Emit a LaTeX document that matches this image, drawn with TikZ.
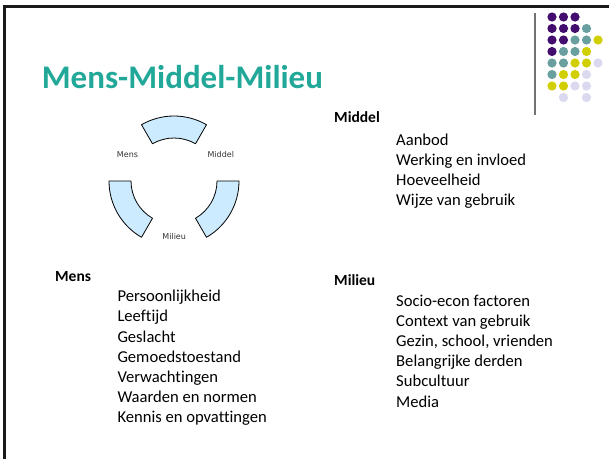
\documentclass[tikz,border=0pt]{standalone}
\usepackage{fontspec}
\setmainfont[Ligatures=CommonOff]{Carlito}
\newfontfamily\wielfont{DejaVu Sans}
\usetikzlibrary{positioning}
\usepackage{xcolor}
\definecolor{titel}{HTML}{22A899}
\definecolor{d1}{HTML}{420D6E}
\definecolor{d2}{HTML}{6A9FA0}
\definecolor{d3}{HTML}{D2CF00}
\definecolor{d4}{HTML}{DAD9F0}
\definecolor{ring}{HTML}{CCEBFF}
\tikzstyle{kop}=[font=\fontsize{15.5}{18}\selectfont\bfseries,anchor=base west,inner sep=0pt]
\tikzstyle{item}=[font=\fontsize{16.6}{20}\selectfont,anchor=base west,inner sep=0pt]
\tikzstyle{wiel}=[font=\wielfont\fontsize{8}{9}\selectfont,text=black!80,inner sep=0pt]
\tikzstyle{segment}=[draw=black,fill=ring,line width=0.8pt,line join=round]
\newcommand{\ringdeel}[2]
{  % #1 = begin hoek , #2 = eind hoek
  \draw[segment] ([shift={(#1:65)}]c) arc[start angle=#1,end angle=#2,radius=65]
    -- ([shift={(#2:43)}]c) arc[start angle=#2,end angle=#1,radius=43] -- cycle;
}

\begin{document}
\begin{tikzpicture}[x=1pt,y=-1pt]
  \useasboundingbox (0,0) rectangle (609,459);
  \draw[line width=3pt,black!90] (4.5,459) |- (609,6);
  % stippen en lijn rechtsboven
  \draw[line width=1.5pt,black!55] (535,13) -- (535,115);
  \foreach \r/\lijst in {0/{d1,d1,d1},1/{d1,d1,d1,d2},2/{d1,d1,d2,d2,d3},
      3/{d1,d2,d2,d3},4/{d2,d2,d3,d3,d4},5/{d2,d3,d3,d4},6/{d3,d3,d4,d4},
      7/{white,d4,white,d4}}
    \foreach \c [count=\k from 0] in \lijst
      \fill[\c] (552+11.5*\k,17+11.5*\r) circle (4.6);

  \node[font=\fontsize{33}{36}\selectfont\bfseries,text=titel,anchor=base west,inner sep=0pt]
    (titel) at (41.7,88.3) {Mens-Middel-Milieu};

  % wiel
  \coordinate (c) at (174,181);
  \ringdeel{240}{300}
  \ringdeel{120}{180}
  \ringdeel{0}{60}
  \node[wiel] (wMens) at (127.5,154.5) {Mens};
  \node[wiel] (wMiddel) at (220.8,154.5) {Middel};
  \node[wiel] (wMilieu) at (174.2,236.5) {Milieu};

  \node[kop] (mens) at (55,281) {Mens};
  \node[kop] (middel) at (334,122.7) {Middel};
  \node[kop] (milieu) at (334,285) {Milieu};
  \foreach \t [count=\i] in {Persoonlijkheid,Leeftijd,Geslacht,Gemoedstoestand,
      Verwachtingen,Waarden en normen,Kennis en opvattingen}
    \node[item] (mens\i) at (117.3,301.7+20.2*\i-20.2) {\t};
  \foreach \t [count=\i] in {Aanbod,Werking en invloed,Hoeveelheid,Wijze van gebruik}
    \node[item] (middel\i) at (396,145+20*\i-20) {\t};
  \foreach \t [count=\i] in {Socio-econ factoren,Context van gebruik,
      {Gezin, school, vrienden},Belangrijke derden,Subcultuur,Media}
    \node[item] (milieu\i) at (396,306+20.2*\i-20.2) {\t};
\end{tikzpicture}
\end{document}
